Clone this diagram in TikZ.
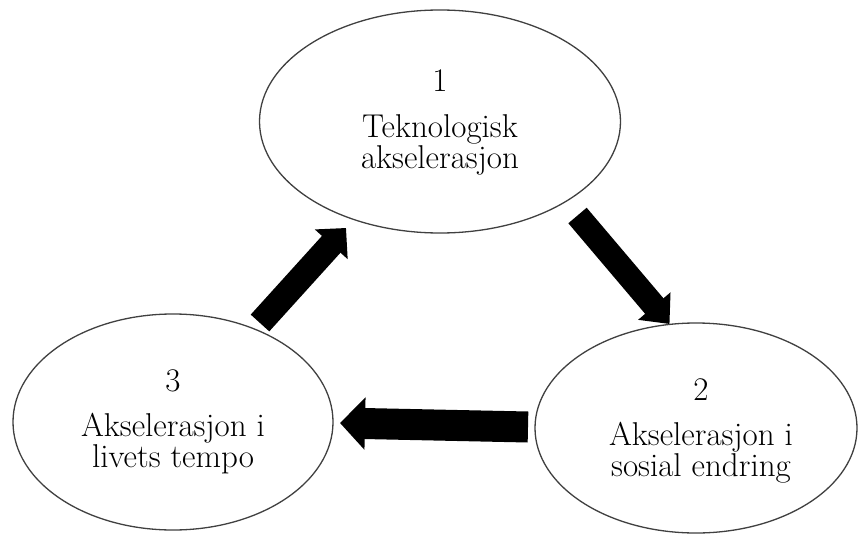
\documentclass[tikz,border=0pt]{standalone}
\usetikzlibrary{shapes.geometric,arrows.meta}
\begin{document}
\begin{tikzpicture}[x=1pt,y=-1pt,
  oval/.style={ellipse, draw=black!75, line width=1.3pt, inner sep=0pt},
  lbl/.style={anchor=base, inner sep=0pt, text height=16pt, text depth=4pt, font=\fontsize{33}{29}\selectfont},
  bigarrow/.style n args={3}{draw=black, line width=#1, -{Triangle[length=#2, width=#3]}}
]
\useasboundingbox (0,0) rectangle (859,535);
\fill[white] (0,0) rectangle (859,535);

% ellipses
\node[oval, minimum width=361pt, minimum height=223pt] (e1) at (440,121.5) {};
\node[oval, minimum width=322pt, minimum height=210pt] (e2) at (696,428) {};
\node[oval, minimum width=320pt, minimum height=216pt] (e3) at (173,422) {};

% texts
\node[lbl] (t1a) at (440,92) {1};
\node[lbl] (t1b) at (440,137.5) {Teknologisk};
\node[lbl] (t1c) at (440,168.5) {akselerasjon};

\node[lbl] (t2a) at (701,400) {2};
\node[lbl] (t2b) at (701,445.5) {Akselerasjon i};
\node[lbl] (t2c) at (701,476.5) {sosial endring};

\node[lbl] (t3a) at (173,391) {3};
\node[lbl] (t3b) at (173,436.5) {Akselerasjon i};
\node[lbl] (t3c) at (173,467.5) {livets tempo};

% arrow end points
\coordinate (a12s) at (577.5,215.5);
\coordinate (a12e) at (669.5,324);
\coordinate (a23s) at (528,427);
\coordinate (a23e) at (340,423);
\coordinate (a31s) at (260,323);
\coordinate (a31e) at (346,228);

\draw[bigarrow={24pt}{23.5pt}{41pt}] (a12s) -- (a12e);
\draw[bigarrow={31pt}{25pt}{51pt}] (a23s) -- (a23e);
\draw[bigarrow={25pt}{22pt}{43pt}] (a31s) -- (a31e);
\end{tikzpicture}
\end{document}
